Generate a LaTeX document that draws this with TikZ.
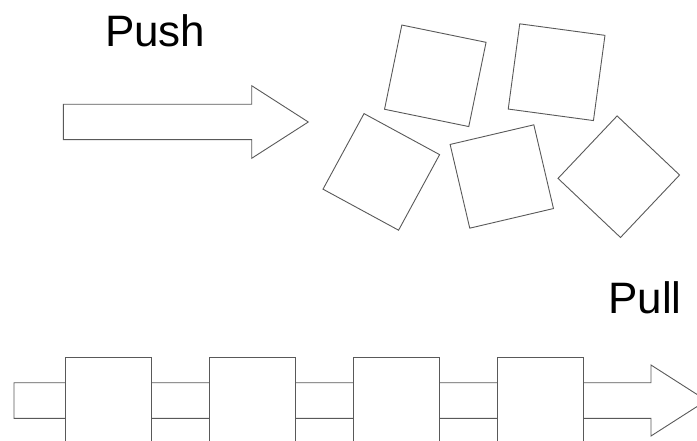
\documentclass[tikz,border=0pt]{standalone}
\usepackage{fontspec}
\setmainfont{Liberation Sans}
\usepackage{tikz}
\usetikzlibrary{positioning}

\begin{document}
\begin{tikzpicture}[x=1pt,y=-1pt]
\tikzstyle{every node}+=[inner sep=0pt, outer sep=0pt]
\tikzstyle{outline}=[draw=black!65, line width=0.9pt, line join=miter]
\tikzstyle{part}=[outline, fill=white, minimum size=86pt]
\tikzstyle{slot}=[outline, fill=white, minimum width=86.7pt, minimum height=100pt, anchor=north west]
\tikzstyle{title}=[anchor=base west, font=\fontsize{44}{52}\selectfont]
\clip (0,0) rectangle (697,441);
% push: loose parts heaped in front of the arrow
\node [title] (push) at (105,46.7) {Push};
\draw [outline] (63.3,104.3) -- (251.7,104.3) -- (251.7,85.7) -- (308.3,122)
  -- (251.7,158.3) -- (251.7,139.7) -- (63.3,139.7) -- cycle;
\node [part, rotate=-11.6] (p1) at (435.3,75.8) {};
\node [part, rotate=-7.7] (p2) at (556.6,72.2) {};
\node [part, rotate=-28.5] (p3) at (381.3,171.9) {};
\node [part, rotate=13.2] (p4) at (501.8,176.5) {};
\node [part, rotate=-43.4] (p5) at (618.8,176.7) {};
% pull: parts threaded along the arrow
\node [title] (pull) at (608.3,313.3) {Pull};
\draw [outline] (14,382.7) -- (651,382.7) -- (651,365) -- (706.5,400.5)
  -- (651,436) -- (651,418.3) -- (14,418.3) -- cycle;
\node [slot] (s1) at (65,357.3) {};
\node [slot, right=57.3pt of s1.north east, anchor=north west] (s2) {};
\node [slot, right=57.3pt of s2.north east, anchor=north west] (s3) {};
\node [slot, right=57.3pt of s3.north east, anchor=north west] (s4) {};
\end{tikzpicture}
\end{document}
